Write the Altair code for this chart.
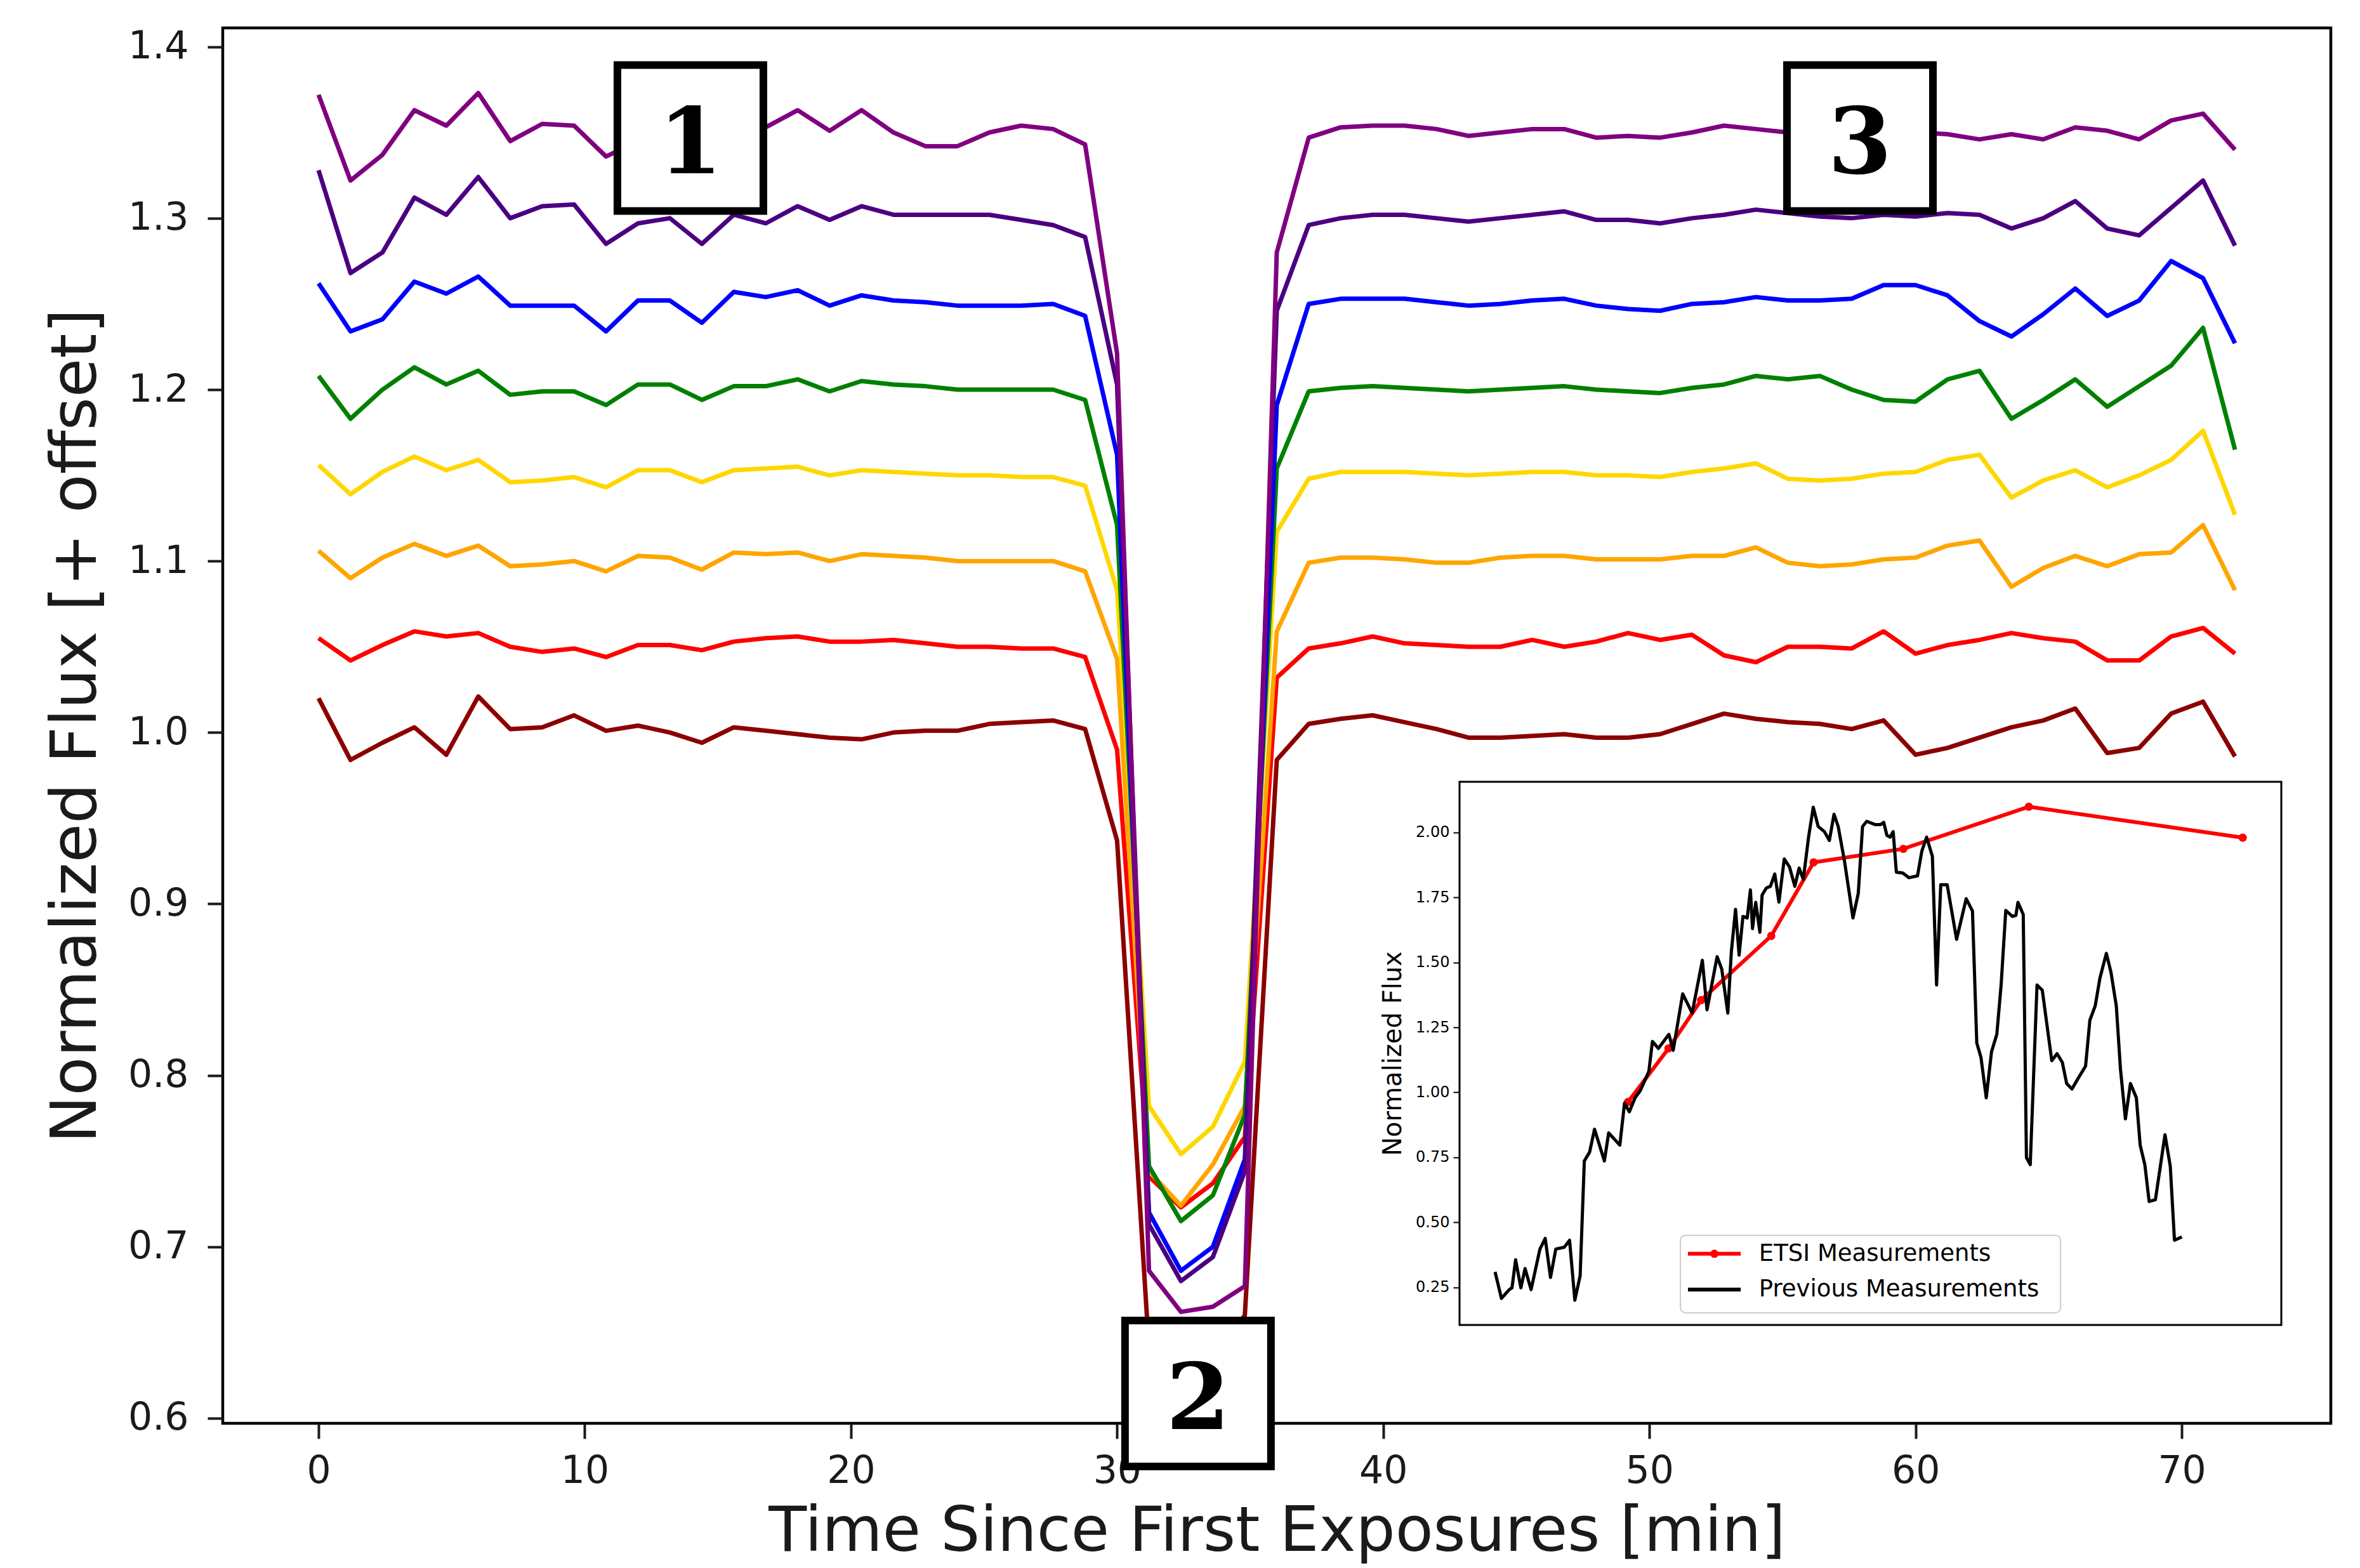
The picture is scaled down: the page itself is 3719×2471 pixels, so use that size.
import altair as alt
import pandas as pd

# ---------------- main light curves ----------------
TIME = [0.0, 1.2, 2.4, 3.6, 4.8, 6.0, 7.2, 8.4, 9.6, 10.8, 12.0, 13.2, 14.4, 15.6, 16.8,
        18.0, 19.2, 20.4, 21.6, 22.8, 24.0, 25.2, 26.4, 27.6, 28.8, 30.0, 31.2, 32.4, 33.6,
        34.8, 36.0, 37.2, 38.4, 39.6, 40.8, 42.0, 43.2, 44.4, 45.6, 46.8, 48.0, 49.2, 50.4,
        51.6, 52.8, 54.0, 55.2, 56.4, 57.6, 58.8, 60.0, 61.2, 62.4, 63.6, 64.8, 66.0, 67.2,
        68.4, 69.6, 70.8, 72.0]

DARKRED = [1.020, 0.984, 0.994, 1.003, 0.987, 1.021, 1.002, 1.003, 1.010, 1.001, 1.004, 1.000,
           0.994, 1.003, 1.001, 0.999, 0.997, 0.996, 1.000, 1.001, 1.001, 1.005, 1.006, 1.007,
           1.002, 0.937, 0.640, 0.634, 0.636, 0.660, 0.984,
           1.005, 1.008, 1.010, 1.006, 1.002, 0.997, 0.997, 0.998, 0.999, 0.997, 0.997, 0.999,
           1.005, 1.011, 1.008, 1.006, 1.005, 1.002, 1.007, 0.987, 0.991, 0.997, 1.003, 1.007,
           1.014, 0.988, 0.991, 1.011, 1.018, 0.986]
RED = [1.055, 1.042, 1.051, 1.059, 1.056, 1.058, 1.050, 1.047, 1.049, 1.044, 1.051, 1.051,
       1.048, 1.053, 1.055, 1.056, 1.053, 1.053, 1.054, 1.052, 1.050, 1.050, 1.049, 1.049,
       1.044, 0.990, 0.741, 0.723, 0.737, 0.764, 1.032,
       1.049, 1.052, 1.056, 1.052, 1.051, 1.050, 1.050, 1.054, 1.050, 1.053, 1.058, 1.054,
       1.057, 1.045, 1.041, 1.050, 1.050, 1.049, 1.059, 1.046, 1.051, 1.054, 1.058, 1.055,
       1.053, 1.042, 1.042, 1.056, 1.061, 1.046]
ORANGE = [1.106, 1.090, 1.102, 1.110, 1.103, 1.109, 1.097, 1.098, 1.100, 1.094, 1.103, 1.102,
          1.095, 1.105, 1.104, 1.105, 1.100, 1.104, 1.103, 1.102, 1.100, 1.100, 1.100, 1.100,
          1.094, 1.043, 0.744, 0.724, 0.748, 0.782, 1.059,
          1.099, 1.102, 1.102, 1.101, 1.099, 1.099, 1.102, 1.103, 1.103, 1.101, 1.101, 1.101,
          1.103, 1.103, 1.108, 1.099, 1.097, 1.098, 1.101, 1.102, 1.109, 1.112, 1.085, 1.096,
          1.103, 1.097, 1.104, 1.105, 1.121, 1.083]
GOLD = [1.156, 1.139, 1.152, 1.161, 1.153, 1.159, 1.146, 1.147, 1.149, 1.143, 1.153, 1.153,
        1.146, 1.153, 1.154, 1.155, 1.150, 1.153, 1.152, 1.151, 1.150, 1.150, 1.149, 1.149,
        1.144, 1.083, 0.782, 0.754, 0.770, 0.808, 1.117,
        1.148, 1.152, 1.152, 1.152, 1.151, 1.150, 1.151, 1.152, 1.152, 1.150, 1.150, 1.149,
        1.152, 1.154, 1.157, 1.148, 1.147, 1.148, 1.151, 1.152, 1.159, 1.162, 1.137, 1.147,
        1.153, 1.143, 1.150, 1.159, 1.176, 1.127]
GREEN = [1.208, 1.183, 1.200, 1.213, 1.203, 1.211, 1.197, 1.199, 1.199, 1.191, 1.203, 1.203,
         1.194, 1.202, 1.202, 1.206, 1.199, 1.205, 1.203, 1.202, 1.200, 1.200, 1.200, 1.200,
         1.194, 1.121, 0.747, 0.715, 0.730, 0.777, 1.154,
         1.199, 1.201, 1.202, 1.201, 1.200, 1.199, 1.200, 1.201, 1.202, 1.200, 1.199, 1.198,
         1.201, 1.203, 1.208, 1.206, 1.208, 1.200, 1.194, 1.193, 1.206, 1.211, 1.183, 1.194,
         1.206, 1.190, 1.202, 1.214, 1.236, 1.165]
BLUE = [1.262, 1.234, 1.241, 1.263, 1.256, 1.266, 1.249, 1.249, 1.249, 1.234, 1.252, 1.252,
        1.239, 1.257, 1.254, 1.258, 1.249, 1.255, 1.252, 1.251, 1.249, 1.249, 1.249, 1.250,
        1.243, 1.162, 0.720, 0.686, 0.700, 0.751, 1.191,
        1.250, 1.253, 1.253, 1.253, 1.251, 1.249, 1.250, 1.252, 1.253, 1.249, 1.247, 1.246,
        1.250, 1.251, 1.254, 1.252, 1.252, 1.253, 1.261, 1.261, 1.255, 1.240, 1.231, 1.244,
        1.259, 1.243, 1.252, 1.275, 1.265, 1.227]
INDIGO = [1.328, 1.268, 1.280, 1.312, 1.302, 1.324, 1.300, 1.307, 1.308, 1.285, 1.297, 1.300,
          1.285, 1.302, 1.297, 1.307, 1.299, 1.307, 1.302, 1.302, 1.302, 1.302, 1.299, 1.296,
          1.289, 1.203, 0.713, 0.680, 0.694, 0.744, 1.246,
          1.296, 1.300, 1.302, 1.302, 1.300, 1.298, 1.300, 1.302, 1.304, 1.299, 1.299, 1.297,
          1.300, 1.302, 1.305, 1.303, 1.301, 1.300, 1.302, 1.301, 1.303, 1.302, 1.294, 1.300,
          1.310, 1.294, 1.290, 1.306, 1.322, 1.284]
PURPLE = [1.372, 1.322, 1.337, 1.363, 1.354, 1.373, 1.345, 1.355, 1.354, 1.336, 1.345, 1.350,
          1.345, 1.350, 1.353, 1.363, 1.351, 1.363, 1.350, 1.342, 1.342, 1.350, 1.354, 1.352,
          1.343, 1.221, 0.686, 0.662, 0.665, 0.677, 1.280,
          1.347, 1.353, 1.354, 1.354, 1.352, 1.348, 1.350, 1.352, 1.352, 1.347, 1.348, 1.347,
          1.350, 1.354, 1.352, 1.350, 1.351, 1.352, 1.352, 1.350, 1.349, 1.346, 1.349, 1.346,
          1.353, 1.351, 1.346, 1.357, 1.361, 1.340]

SERIES = [DARKRED, RED, ORANGE, GOLD, GREEN, BLUE, INDIGO, PURPLE]
SERIES_COLORS = ["#8b0000", "#ff0000", "#ffa500", "#ffd700", "#008000", "#0000ff", "#4b0082", "#800080"]

X_TICKS = [0, 10, 20, 30, 40, 50, 60, 70]
Y_TICKS = [0.6, 0.7, 0.8, 0.9, 1.0, 1.1, 1.2, 1.3, 1.4]

# numbered annotation boxes (time, flux, label)
BOX_T = [13.97, 33.04, 57.91]
BOX_V = [1.3468, 0.6144, 1.3468]
BOX_LABELS = ["1", "2", "3"]

# ---------------- inset spectrum ----------------
PREV_NM = [328.9, 334.1, 340.4, 342.7, 345.6, 349.9, 353.3, 358.2, 365.4, 369.7, 374.0, 378.3,
           385.2, 389.5, 393.8, 398.1, 401.5, 405.8, 409.8, 417.8, 421.3, 430.4, 434.2, 438.1,
           442.8, 447.1, 454.0, 456.9, 461.7, 470.3, 473.8, 481.5, 489.2, 497.5, 501.3, 509.5,
           513.3, 518.2, 521.1, 524.5, 527.4, 530.5, 534.0, 536.6, 538.3, 540.9, 544.3, 546.1,
           549.5, 552.9, 556.4, 559.8, 564.1, 568.4, 572.7, 576.2, 579.6, 583.9, 587.7, 591.7,
           596.8, 600.8, 604.6, 608.0, 613.2, 620.0, 624.3, 627.8, 631.2, 638.1, 642.4, 645.0,
           647.6, 650.2, 652.7, 655.3, 660.5, 665.6, 672.5, 676.0, 679.9, 684.6, 688.0, 691.4,
           696.6, 704.3, 712.1, 717.2, 720.7, 724.1, 728.4, 732.7, 737.0, 740.5, 744.3, 749.7,
           752.5, 754.2, 758.5, 761.1, 764.2, 769.7, 774.0, 781.7, 786.0, 790.3, 793.8, 798.1,
           803.2, 809.2, 812.7, 817.0, 820.9, 826.1, 829.9, 834.2, 837.6, 841.6, 845.7, 850.5,
           853.6, 857.4, 860.9, 866.0, 873.8, 878.1, 881.5, 887.5]
PREV_FLUX = [0.309, 0.207, 0.241, 0.248, 0.356, 0.248, 0.322, 0.241, 0.397, 0.438, 0.288, 0.397,
             0.404, 0.431, 0.200, 0.295, 0.736, 0.770, 0.858, 0.736, 0.844, 0.797, 0.959, 0.925,
             0.979, 1.007, 1.081, 1.196, 1.169, 1.223, 1.162, 1.379, 1.305, 1.508, 1.318, 1.522,
             1.474, 1.305, 1.542, 1.704, 1.528, 1.677, 1.671, 1.779, 1.630, 1.731, 1.616, 1.759,
             1.786, 1.793, 1.840, 1.732, 1.898, 1.867, 1.793, 1.863, 1.820, 1.982, 2.097, 2.023,
             2.003, 1.969, 2.070, 2.023, 1.887, 1.671, 1.765, 2.023, 2.043, 2.030, 2.030, 2.039,
             1.989, 1.982, 2.003, 1.847, 1.844, 1.826, 1.833, 1.928, 1.982, 1.908, 1.413, 1.799,
             1.799, 1.589, 1.745, 1.698, 1.190, 1.135, 0.979, 1.156, 1.223, 1.413, 1.700, 1.677,
             1.681, 1.731, 1.684, 0.749, 0.722, 1.413, 1.393, 1.122, 1.149, 1.115, 1.034, 1.013,
             1.054, 1.101, 1.278, 1.332, 1.440, 1.535, 1.461, 1.332, 1.088, 0.898, 1.034, 0.979,
             0.797, 0.722, 0.580, 0.587, 0.837, 0.715, 0.431, 0.444]

ETSI_NM = [437.0, 470.0, 496.5, 553.5, 588.0, 661.0, 763.0, 937.0]
ETSI_FLUX = [0.963, 1.169, 1.355, 1.602, 1.885, 1.937, 2.099, 1.980]

IN_X_TICKS = [300, 400, 500, 600, 700, 800, 900]
IN_Y_TICKS = [0.25, 0.50, 0.75, 1.00, 1.25, 1.50, 1.75, 2.00]
IN_X_DOMAIN = [300, 968.4]
IN_Y_DOMAIN = [0.105, 2.195]

LEG_LABELS = ["ETSI Measurements", "Previous Measurements"]
LEG_COLORS = ["red", "black"]
LEG_FLUX = [0.379, 0.241]
LEG_LINE_NM = [485.8, 528.7]
LEG_TEXT_NM = 543.5
LEG_BOX = [479.6, 788.8, 0.152, 0.450]

# ---------------- layout ----------------
W, H = 3322, 2199
FONT = "DejaVu Sans"
INK = "#1a1a1a"

X_MAIN = alt.X("t:Q",
               scale=alt.Scale(domain=[-3.6, 75.6], nice=False, zero=False),
               axis=alt.Axis(title="Time Since First Exposures [min]", values=X_TICKS, format="d",
                             orient="bottom", domain=False, grid=False,
                             tickSize=24, tickWidth=4, tickColor=INK,
                             labelFontSize=60, labelColor=INK, labelPadding=22, labelFont=FONT,
                             titleFontSize=98, titleFontWeight="normal", titleColor=INK, titleFont=FONT,
                             titleX=W / 2, titleY=200, titleBaseline="alphabetic"))
Y_MAIN = alt.Y("v:Q",
               scale=alt.Scale(domain=[0.597, 1.411], nice=False, zero=False),
               axis=alt.Axis(title="Normalized Flux [+ offset]", values=Y_TICKS, format=".1f",
                             orient="left", domain=False, grid=False,
                             tickSize=24, tickWidth=4, tickColor=INK,
                             labelFontSize=60, labelColor=INK, labelPadding=30, labelFont=FONT,
                             titleFontSize=100, titleFontWeight="normal", titleColor=INK, titleFont=FONT,
                             titleX=-231, titleY=H / 2, titleBaseline="middle"))

main_layers = []
for vals, col in zip(SERIES, SERIES_COLORS):
    df = pd.DataFrame({"t": TIME, "v": vals})
    main_layers.append(
        alt.Chart(df).mark_line(color=col, strokeWidth=7, strokeJoin="round").encode(x=X_MAIN, y=Y_MAIN)
    )

box_df = pd.DataFrame({"t": BOX_T, "v": BOX_V, "label": BOX_LABELS})
boxes = alt.Chart(box_df).mark_square(size=230 * 230, filled=True, fill="white", stroke="black",
                                       strokeWidth=12, opacity=1).encode(x=X_MAIN, y=Y_MAIN)
box_text = alt.Chart(box_df).mark_text(font="DejaVu Serif", fontWeight="bold", fontSize=145,
                                        color="black", baseline="middle", align="center",
                                        dy=12).encode(x=X_MAIN, y=Y_MAIN, text="label:N")

main = alt.layer(*main_layers, boxes, box_text)

# inset encodings: own scales mapped into the lower-right part of the plot area
IN_X_SCALE = alt.Scale(domain=IN_X_DOMAIN, range=[1949, 3244], nice=False, zero=False)
IN_Y_SCALE = alt.Scale(domain=IN_Y_DOMAIN, range=[2044, 1188], nice=False, zero=False)
X_IN = alt.X("nm:Q", scale=IN_X_SCALE,
             axis=alt.Axis(title="Wavelength [nm]", values=IN_X_TICKS, format="d", orient="bottom",
                           offset=-155, domain=False, grid=False, tickSize=10, tickWidth=2,
                           tickColor="black", labelFontSize=24, labelColor="black", labelPadding=8,
                           labelFont=FONT, titleFontSize=40, titleFontWeight="normal",
                           titleColor="black", titleFont=FONT, titleX=2596, titleY=85,
                           titleBaseline="alphabetic"))
Y_IN = alt.Y("fl:Q", scale=IN_Y_SCALE,
             axis=alt.Axis(title="Normalized Flux", values=IN_Y_TICKS, format=".2f", orient="left",
                           offset=-1949, domain=False, grid=False, tickSize=10, tickWidth=2,
                           tickColor="black", labelFontSize=24, labelColor="black", labelPadding=6,
                           labelFont=FONT, titleFontSize=40, titleFontWeight="normal",
                           titleColor="black", titleFont=FONT, titleX=-105, titleY=1616,
                           titleBaseline="middle"))

frame_df = pd.DataFrame({"nm": [IN_X_DOMAIN[0]], "nm2": [IN_X_DOMAIN[1]],
                         "fl": [IN_Y_DOMAIN[0]], "fl2": [IN_Y_DOMAIN[1]]})
frame = alt.Chart(frame_df).mark_rect(fill="white", stroke="black", strokeWidth=3).encode(
    x=X_IN, x2="nm2:Q", y=Y_IN, y2="fl2:Q")

etsi_df = pd.DataFrame({"nm": ETSI_NM, "fl": ETSI_FLUX})
prev_df = pd.DataFrame({"nm": PREV_NM, "fl": PREV_FLUX})

etsi_line = alt.Chart(etsi_df).mark_line(color="red", strokeWidth=6).encode(x=X_IN, y=Y_IN)
etsi_pts = alt.Chart(etsi_df).mark_circle(color="red", size=170, opacity=1).encode(x=X_IN, y=Y_IN)
prev_line = alt.Chart(prev_df).mark_line(color="black", strokeWidth=5, strokeJoin="round").encode(
    x=X_IN, y=Y_IN)

leg_box_df = pd.DataFrame({"nm": [LEG_BOX[0]], "nm2": [LEG_BOX[1]], "fl": [LEG_BOX[2]], "fl2": [LEG_BOX[3]]})
leg_box = alt.Chart(leg_box_df).mark_rect(fill="white", fillOpacity=0.85, stroke="#cccccc",
                                          strokeWidth=2, cornerRadius=8).encode(
    x=X_IN, x2="nm2:Q", y=Y_IN, y2="fl2:Q")

leg_df = pd.DataFrame({"label": LEG_LABELS, "col": LEG_COLORS, "fl": LEG_FLUX,
                       "nm": [LEG_LINE_NM[0]] * 2, "nm2": [LEG_LINE_NM[1]] * 2,
                       "nmc": [(LEG_LINE_NM[0] + LEG_LINE_NM[1]) / 2] * 2,
                       "nmt": [LEG_TEXT_NM] * 2})
leg_color = alt.Color("col:N", scale=None, legend=None)
leg_rules = alt.Chart(leg_df).mark_rule(strokeWidth=6).encode(x=X_IN, x2="nm2:Q", y=Y_IN, color=leg_color)
leg_dot = alt.Chart(leg_df.iloc[:1]).mark_circle(size=170, opacity=1, color="red").encode(
    x=alt.X("nmc:Q", scale=IN_X_SCALE, axis=None), y=Y_IN)
leg_text = alt.Chart(leg_df).mark_text(align="left", baseline="middle", fontSize=37, font=FONT,
                                       color="black").encode(
    x=alt.X("nmt:Q", scale=IN_X_SCALE, axis=None), y=Y_IN, text="label:N")

inset = alt.layer(frame, etsi_line, etsi_pts, prev_line, leg_box, leg_rules, leg_dot, leg_text)

chart = alt.layer(main, inset).resolve_scale(x="independent", y="independent").properties(
    width=W, height=H,
    padding={"left": 343, "top": 36, "right": 30, "bottom": 226},
    autosize=alt.AutoSizeParams(type="none"),
    background="white",
).configure(font=FONT).configure_view(stroke="black", strokeWidth=4.5)

chart.save("out.html", embed_options={"renderer": "svg", "actions": False})
